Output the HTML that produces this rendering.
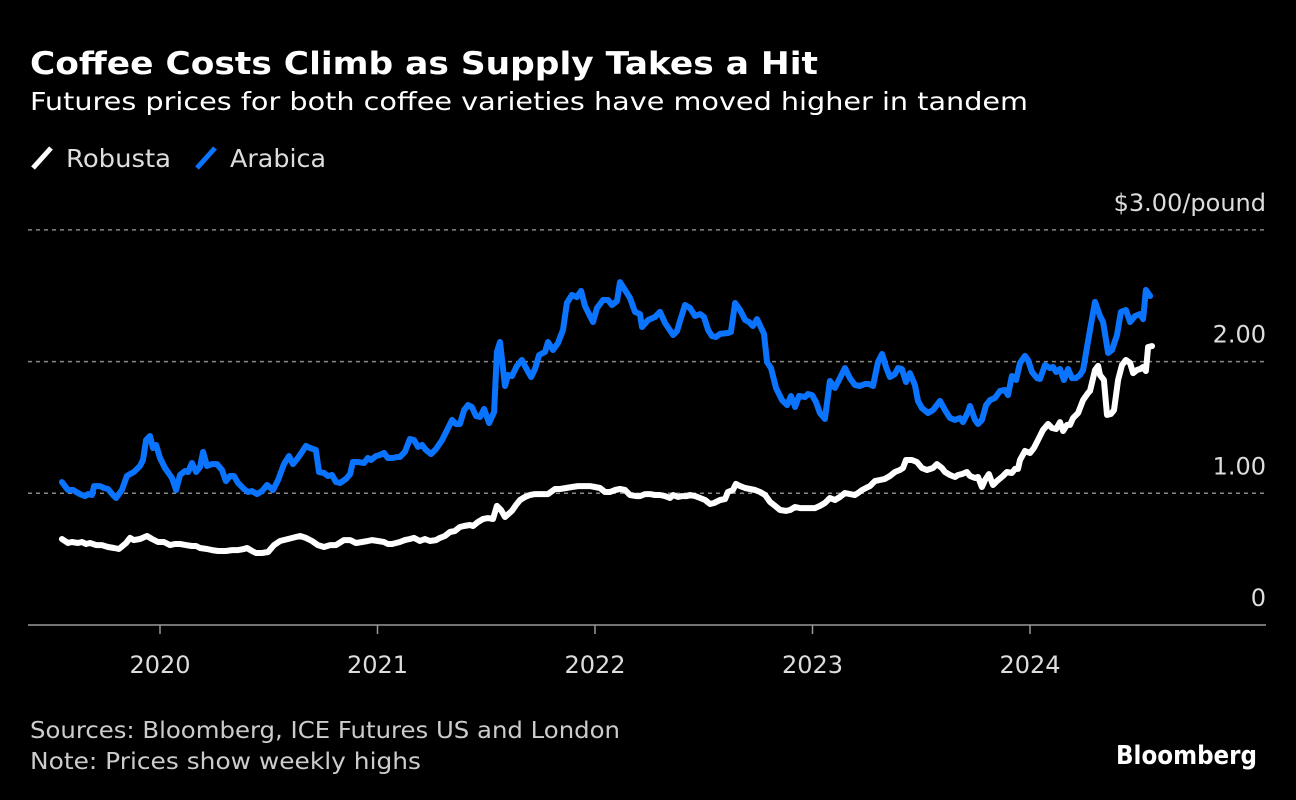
<!DOCTYPE html>
<html><head><meta charset="utf-8"><style>
html,body{margin:0;padding:0;background:#000;}
svg{display:block;}
</style></head><body>
<svg id="chart" width="1296" height="800" viewBox="0 0 1296 800" xmlns="http://www.w3.org/2000/svg" font-family="DejaVu Sans, Liberation Sans, sans-serif">
<rect width="1296" height="800" fill="#000"/>
<text x="30" y="74" fill="#fff" font-weight="bold" font-size="31" textLength="788" lengthAdjust="spacingAndGlyphs">Coffee Costs Climb as Supply Takes a Hit</text>
<text x="30" y="110" fill="#fff" font-size="25" textLength="998" lengthAdjust="spacingAndGlyphs">Futures prices for both coffee varieties have moved higher in tandem</text>
<g>
<line x1="33" y1="168" x2="51" y2="148" stroke="#fff" stroke-width="5"/>
<text x="66" y="167" fill="#ddd" font-size="25" textLength="105" lengthAdjust="spacingAndGlyphs">Robusta</text>
</g>
<g>
<line x1="197" y1="168" x2="215" y2="148" stroke="#0a74ff" stroke-width="5"/>
<text x="230" y="167" fill="#ddd" font-size="25" textLength="96" lengthAdjust="spacingAndGlyphs">Arabica</text>
</g>
<g id="grid"></g>
<g id="series"></g>
<text x="30" y="738" fill="#ccc" font-size="23" textLength="590" lengthAdjust="spacingAndGlyphs">Sources: Bloomberg, ICE Futures US and London</text>
<text x="30" y="769" fill="#ccc" font-size="23" textLength="391" lengthAdjust="spacingAndGlyphs">Note: Prices show weekly highs</text>
<text x="1257" y="764" fill="#fff" font-size="26" font-weight="bold" text-anchor="end" textLength="141" lengthAdjust="spacingAndGlyphs">Bloomberg</text>
</svg>
<script>
const yTicks = [0, 1, 2, 3];
const yTickLabels = ["0", "1.00", "2.00", "$3.00/pound"];
const xTicks = [2020, 2021, 2022, 2023, 2024];
const xTickLabels = ["2020", "2021", "2022", "2023", "2024"];

const arabicaDates = [2019.549,2019.577,2019.600,2019.632,2019.655,2019.669,2019.687,2019.697,2019.724,2019.743,2019.761,2019.784,2019.798,2019.825,2019.848,2019.862,2019.880,2019.908,2019.922,2019.936,2019.954,2019.968,2019.982,2020.000,2020.023,2020.055,2020.074,2020.092,2020.115,2020.129,2020.147,2020.166,2020.184,2020.198,2020.216,2020.239,2020.262,2020.285,2020.303,2020.322,2020.340,2020.359,2020.386,2020.405,2020.423,2020.446,2020.469,2020.492,2020.520,2020.543,2020.570,2020.593,2020.611,2020.634,2020.653,2020.671,2020.690,2020.717,2020.731,2020.754,2020.772,2020.791,2020.809,2020.828,2020.855,2020.874,2020.887,2020.910,2020.938,2020.956,2020.970,2020.993,2021.011,2021.030,2021.048,2021.071,2021.090,2021.103,2021.126,2021.149,2021.168,2021.186,2021.205,2021.223,2021.246,2021.269,2021.297,2021.320,2021.343,2021.361,2021.379,2021.398,2021.416,2021.434,2021.453,2021.471,2021.490,2021.513,2021.536,2021.549,2021.563,2021.586,2021.600,2021.618,2021.641,2021.664,2021.683,2021.706,2021.724,2021.743,2021.770,2021.784,2021.807,2021.830,2021.853,2021.871,2021.894,2021.917,2021.936,2021.954,2021.991,2022.009,2022.037,2022.060,2022.078,2022.101,2022.115,2022.138,2022.161,2022.184,2022.207,2022.216,2022.244,2022.276,2022.299,2022.322,2022.359,2022.377,2022.391,2022.414,2022.437,2022.460,2022.483,2022.501,2022.520,2022.538,2022.556,2022.575,2022.611,2022.625,2022.644,2022.667,2022.690,2022.708,2022.726,2022.745,2022.777,2022.791,2022.809,2022.832,2022.860,2022.883,2022.901,2022.920,2022.938,2022.966,2022.979,2022.998,2023.016,2023.034,2023.057,2023.080,2023.103,2023.126,2023.149,2023.172,2023.195,2023.218,2023.241,2023.260,2023.278,2023.301,2023.320,2023.338,2023.356,2023.379,2023.393,2023.411,2023.430,2023.448,2023.471,2023.485,2023.503,2023.531,2023.554,2023.586,2023.609,2023.632,2023.655,2023.678,2023.692,2023.715,2023.724,2023.747,2023.761,2023.779,2023.798,2023.816,2023.839,2023.862,2023.885,2023.899,2023.917,2023.936,2023.954,2023.977,2023.991,2024.009,2024.032,2024.046,2024.069,2024.092,2024.106,2024.120,2024.138,2024.156,2024.175,2024.193,2024.211,2024.230,2024.244,2024.276,2024.299,2024.322,2024.336,2024.359,2024.377,2024.400,2024.418,2024.441,2024.460,2024.483,2024.506,2024.520,2024.533,2024.552];
const arabicaPrices = [1.085,1.025,1.025,0.994,0.979,0.994,0.987,1.055,1.055,1.040,1.033,0.987,0.964,1.025,1.131,1.146,1.162,1.207,1.253,1.405,1.435,1.344,1.367,1.268,1.192,1.116,1.025,1.139,1.169,1.162,1.230,1.162,1.200,1.314,1.207,1.222,1.222,1.177,1.093,1.131,1.131,1.078,1.033,1.010,1.017,0.994,1.017,1.063,1.025,1.101,1.222,1.283,1.222,1.268,1.314,1.359,1.344,1.329,1.162,1.154,1.131,1.139,1.086,1.078,1.109,1.146,1.238,1.238,1.230,1.268,1.253,1.283,1.291,1.306,1.268,1.268,1.276,1.276,1.314,1.412,1.405,1.352,1.367,1.329,1.298,1.336,1.405,1.481,1.557,1.526,1.526,1.632,1.670,1.655,1.587,1.579,1.640,1.534,1.617,2.073,2.149,1.815,1.898,1.891,1.967,2.012,1.951,1.883,1.944,2.050,2.073,2.149,2.088,2.141,2.240,2.445,2.506,2.490,2.536,2.422,2.301,2.407,2.468,2.468,2.430,2.460,2.604,2.544,2.483,2.377,2.361,2.263,2.316,2.339,2.377,2.293,2.202,2.232,2.308,2.430,2.407,2.346,2.361,2.339,2.240,2.194,2.187,2.210,2.217,2.225,2.445,2.392,2.316,2.301,2.270,2.323,2.210,1.997,1.951,1.800,1.708,1.670,1.739,1.655,1.739,1.731,1.754,1.746,1.693,1.610,1.564,1.853,1.800,1.875,1.951,1.875,1.822,1.815,1.830,1.830,1.815,1.997,2.058,1.959,1.883,1.906,1.951,1.944,1.845,1.913,1.822,1.701,1.648,1.610,1.632,1.701,1.632,1.572,1.557,1.572,1.541,1.617,1.663,1.557,1.526,1.557,1.670,1.708,1.724,1.777,1.784,1.746,1.891,1.860,1.989,2.043,2.012,1.921,1.875,1.868,1.974,1.951,1.959,1.921,1.944,1.860,1.944,1.875,1.875,1.898,1.936,2.240,2.453,2.346,2.301,2.065,2.088,2.202,2.377,2.392,2.301,2.346,2.361,2.323,2.544,2.498];

const robustaDates = [2019.549,2019.577,2019.595,2019.623,2019.641,2019.660,2019.678,2019.706,2019.733,2019.761,2019.789,2019.811,2019.844,2019.862,2019.880,2019.908,2019.940,2019.963,2019.991,2020.018,2020.046,2020.069,2020.092,2020.120,2020.147,2020.166,2020.184,2020.216,2020.239,2020.267,2020.303,2020.331,2020.359,2020.386,2020.400,2020.423,2020.441,2020.469,2020.497,2020.524,2020.552,2020.589,2020.625,2020.644,2020.671,2020.699,2020.726,2020.754,2020.782,2020.809,2020.846,2020.874,2020.901,2020.929,2020.956,2020.975,2021.002,2021.030,2021.048,2021.067,2021.103,2021.126,2021.149,2021.168,2021.195,2021.218,2021.241,2021.269,2021.287,2021.310,2021.333,2021.356,2021.379,2021.398,2021.425,2021.439,2021.462,2021.485,2021.508,2021.531,2021.549,2021.568,2021.586,2021.618,2021.637,2021.655,2021.678,2021.701,2021.724,2021.747,2021.784,2021.816,2021.839,2021.867,2021.894,2021.922,2021.954,2021.977,2022.000,2022.023,2022.046,2022.069,2022.092,2022.115,2022.138,2022.161,2022.189,2022.207,2022.230,2022.253,2022.276,2022.299,2022.322,2022.345,2022.359,2022.382,2022.400,2022.423,2022.437,2022.460,2022.483,2022.506,2022.529,2022.547,2022.575,2022.598,2022.611,2022.634,2022.648,2022.667,2022.690,2022.713,2022.736,2022.759,2022.782,2022.805,2022.828,2022.851,2022.878,2022.897,2022.920,2022.943,2022.989,2023.011,2023.034,2023.057,2023.080,2023.103,2023.126,2023.149,2023.172,2023.195,2023.209,2023.228,2023.246,2023.264,2023.287,2023.310,2023.333,2023.356,2023.379,2023.402,2023.416,2023.430,2023.457,2023.480,2023.503,2023.526,2023.554,2023.572,2023.595,2023.609,2023.632,2023.655,2023.669,2023.687,2023.710,2023.724,2023.747,2023.761,2023.779,2023.793,2023.811,2023.830,2023.848,2023.876,2023.894,2023.917,2023.931,2023.945,2023.954,2023.977,2024.000,2024.018,2024.037,2024.060,2024.083,2024.101,2024.120,2024.138,2024.152,2024.170,2024.184,2024.198,2024.221,2024.244,2024.267,2024.276,2024.290,2024.299,2024.313,2024.322,2024.340,2024.354,2024.372,2024.386,2024.405,2024.423,2024.441,2024.460,2024.474,2024.492,2024.506,2024.520,2024.533,2024.543,2024.561];
const robustaPrices = [0.653,0.623,0.630,0.623,0.630,0.615,0.623,0.607,0.607,0.592,0.585,0.577,0.623,0.661,0.645,0.653,0.676,0.653,0.630,0.630,0.607,0.615,0.615,0.607,0.600,0.600,0.585,0.577,0.569,0.562,0.562,0.569,0.569,0.577,0.585,0.562,0.547,0.547,0.554,0.607,0.638,0.653,0.668,0.676,0.661,0.638,0.607,0.592,0.607,0.607,0.645,0.645,0.623,0.630,0.638,0.645,0.638,0.630,0.615,0.615,0.630,0.645,0.653,0.661,0.638,0.653,0.638,0.645,0.661,0.676,0.706,0.714,0.744,0.752,0.759,0.752,0.782,0.805,0.812,0.805,0.904,0.873,0.820,0.866,0.911,0.949,0.972,0.987,0.994,0.994,0.994,1.033,1.033,1.040,1.048,1.055,1.055,1.055,1.048,1.040,1.010,1.010,1.025,1.033,1.025,0.987,0.979,0.979,0.994,0.994,0.987,0.987,0.979,0.964,0.987,0.972,0.979,0.979,0.987,0.979,0.964,0.949,0.919,0.926,0.949,0.957,1.010,1.025,1.071,1.055,1.040,1.033,1.025,1.010,0.987,0.934,0.904,0.873,0.866,0.873,0.896,0.888,0.888,0.888,0.904,0.926,0.964,0.949,0.972,1.002,0.994,0.987,1.002,1.025,1.040,1.055,1.093,1.101,1.109,1.131,1.162,1.177,1.192,1.253,1.253,1.238,1.192,1.177,1.192,1.222,1.192,1.162,1.139,1.124,1.139,1.146,1.162,1.131,1.116,1.124,1.048,1.101,1.146,1.063,1.093,1.131,1.162,1.154,1.185,1.185,1.253,1.321,1.306,1.344,1.405,1.481,1.526,1.496,1.488,1.541,1.473,1.519,1.519,1.572,1.610,1.708,1.762,1.777,1.875,1.936,1.967,1.898,1.860,1.595,1.602,1.632,1.860,1.974,2.012,1.989,1.913,1.936,1.944,1.959,1.929,2.111,2.118];

const NS = "http://www.w3.org/2000/svg";
const X0 = 160, PX_PER_YEAR = 217.5, Y0 = 625, PX_PER_DOLLAR = 131.7;
function xScale(t){ return X0 + (t - 2020) * PX_PER_YEAR; }
function yScale(v){ return Y0 - v * PX_PER_DOLLAR; }

const grid = document.getElementById('grid');
yTicks.forEach((v, i) => {
  if (v > 0) {
    const l = document.createElementNS(NS, 'line');
    
    
    l.setAttribute('x1', 28); l.setAttribute('x2', 1266);
    l.setAttribute('y1', yScale(v)); l.setAttribute('y2', yScale(v));
    l.setAttribute('stroke', '#888'); l.setAttribute('stroke-width', 1.5);
    l.setAttribute('stroke-dasharray', '4,4');
    grid.appendChild(l);
  }
  const t = document.createElementNS(NS, 'text');
  
  
  t.setAttribute('x', 1266); t.setAttribute('y', yScale(v) - 19);
  t.setAttribute('text-anchor', 'end'); t.setAttribute('fill', '#ddd');
  t.setAttribute('font-size', '24');
  t.textContent = yTickLabels[i];
  grid.appendChild(t);
});
const axis = document.createElementNS(NS, 'line');


axis.setAttribute('x1', 28); axis.setAttribute('x2', 1266);
axis.setAttribute('y1', Y0); axis.setAttribute('y2', Y0);
axis.setAttribute('stroke', '#999'); axis.setAttribute('stroke-width', 1.5);
grid.appendChild(axis);
xTicks.forEach((yr, i) => {
  const tk = document.createElementNS(NS, 'line');
  
  
  tk.setAttribute('x1', xScale(yr)); tk.setAttribute('x2', xScale(yr));
  tk.setAttribute('y1', Y0); tk.setAttribute('y2', Y0 + 9);
  tk.setAttribute('stroke', '#999'); tk.setAttribute('stroke-width', 1.5);
  grid.appendChild(tk);
  const t = document.createElementNS(NS, 'text');
  
  
  t.setAttribute('x', xScale(yr)); t.setAttribute('y', 673);
  t.setAttribute('text-anchor', 'middle'); t.setAttribute('fill', '#ddd');
  t.setAttribute('font-size', '24');
  t.textContent = xTickLabels[i];
  grid.appendChild(t);
});

const series = document.getElementById('series');
function drawLine(dates, prices, color, name){
  const p = document.createElementNS(NS, 'path');
  let d = '';
  dates.forEach((t, i) => { d += (i ? 'L' : 'M') + xScale(t).toFixed(1) + ',' + yScale(prices[i]).toFixed(1); });
  p.setAttribute('d', d);
  
  
  p.setAttribute('fill', 'none'); p.setAttribute('stroke', color);
  p.setAttribute('stroke-width', 6); p.setAttribute('stroke-linejoin', 'round');
  p.setAttribute('stroke-linecap', 'round');
  series.appendChild(p);
}
drawLine(robustaDates, robustaPrices, '#ffffff', 'robusta-line');
drawLine(arabicaDates, arabicaPrices, '#0a74ff', 'arabica-line');
</script>
</body></html>
